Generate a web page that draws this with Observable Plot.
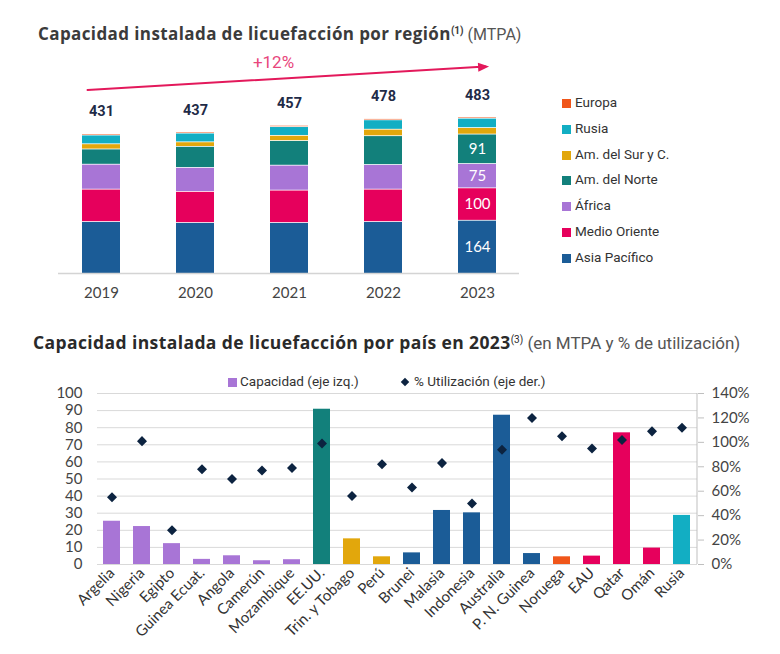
<!DOCTYPE html>
<html><head><meta charset="utf-8">
<script src="https://cdn.jsdelivr.net/npm/d3@7"></script>
<script src="https://cdn.jsdelivr.net/npm/@observablehq/plot@0.6"></script>
<style>
html,body{margin:0;padding:0;background:#fff;}
#root{position:relative;width:780px;height:654px;overflow:hidden;font-family:Roboto,"Open Sans",sans-serif;}
.abs{position:absolute;white-space:nowrap;line-height:1;}
#top{position:absolute;left:0;top:0;}
#bottom{position:absolute;left:0;top:360px;}
.t1{left:38px;top:25px;font-size:16px;color:#3b3b3b;}
.t1 b{font-weight:700;font-family:"Open Sans",sans-serif;font-size:17px;letter-spacing:0.4px;}
.t1 sup{font-size:10px;font-weight:700;vertical-align:6px;}
.t1 span{font-weight:400;color:#555;}
.t2{left:33px;top:334px;font-size:17px;color:#2a2a2a;}
.t2 b{font-weight:700;font-family:"Open Sans",sans-serif;font-size:17.5px;letter-spacing:0.4px;}
.t2 sup{font-size:10px;vertical-align:6px;}
.t2 span{font-weight:400;color:#555;}
.leg{font-size:13.5px;color:#333;}
.leg i{display:inline-block;width:9px;height:9px;margin-right:4px;vertical-align:-1px;}
.lg2{font-size:13.5px;color:#333;}
.lg2 i{display:inline-block;width:9px;height:9px;margin-right:3px;vertical-align:-1px;}
.lg2 em{display:inline-block;width:6px;height:6px;background:#0c2340;transform:rotate(45deg);margin:0 6px 0 2px;vertical-align:1px;}
</style></head><body>
<div id="root">
  <div id="top"></div>
  <div id="bottom"></div>
  <div class="abs t1"><b>Capacidad instalada de licuefacción por región</b><sup>(1)</sup> <span>(MTPA)</span></div>
  <div id="legTop"></div>
  <div class="abs t2"><b>Capacidad instalada de licuefacción por país en 2023</b><sup>(3)</sup> <span>(en MTPA y % de utilización)</span></div>
  <div class="abs lg2" style="left:228px;top:375px;"><i style="background:#a875d6"></i>Capacidad (eje izq.)</div>
  <div class="abs lg2" style="left:400px;top:375px;"><em></em>% Utilización (eje der.)</div>
</div>
<script>
// ---------- Data: top chart (MTPA by region, stacked bottom -> top) ----------
const years = ["2019", "2020", "2021", "2022", "2023"];
const regions = ["Asia Pacífico", "Medio Oriente", "África", "Am. del Norte", "Am. del Sur y C.", "Rusia", "Europa"];
const regionColors = ["#1b5c97", "#e6005c", "#a875d6", "#12807b", "#e2a70c", "#12aec3", "#f0561a"];
const asiaPacifico = [160, 157, 157, 160, 164];
const medioOriente = [100, 96, 100, 100, 100];
const africa = [77, 74, 77, 76, 75];
const amNorte = [47, 65, 76, 89, 91];
const amSur = [16, 14, 16, 20, 20];
const rusia = [27, 27, 27, 29, 29];
const europa = [4, 4, 4, 4, 4];
const legendOrder = ["Europa", "Rusia", "Am. del Sur y C.", "Am. del Norte", "África", "Medio Oriente", "Asia Pacífico"];

// ---------- Data: bottom chart (2023 by country) ----------
const countries = ["Argelia", "Nigeria", "Egipto", "Guinea Ecuat.", "Angola", "Camerún", "Mozambique", "EE.UU.", "Trin. y Tobago", "Perú", "Brunei", "Malasia", "Indonesia", "Australia", "P. N. Guinea", "Noruega", "EAU", "Qatar", "Omán", "Rusia"];
const countryRegion = ["África", "África", "África", "África", "África", "África", "África", "Am. del Norte", "Am. del Sur y C.", "Am. del Sur y C.", "Asia Pacífico", "Asia Pacífico", "Asia Pacífico", "Asia Pacífico", "Asia Pacífico", "Europa", "Medio Oriente", "Medio Oriente", "Medio Oriente", "Rusia"];
const capacity = [25.3, 22.2, 12.2, 3.0, 5.1, 2.2, 2.8, 90.8, 15.0, 4.5, 6.8, 31.6, 30.2, 87.3, 6.4, 4.5, 4.9, 77.0, 9.6, 28.7];
const utilization = [55, 101, 28, 78, 70, 77, 79, 99, 56, 82, 63, 83, 50, 94, 120, 105, 95, 102, 109, 112];
const leftTicks = [0, 10, 20, 30, 40, 50, 60, 70, 80, 90, 100];
const rightTicks = [0, 20, 40, 60, 80, 100, 120, 140];
const rightMax = 140;

// ---------- Build tables ----------
const series = [asiaPacifico, medioOriente, africa, amNorte, amSur, rusia, europa];
const tidy = regions.flatMap((r, i) => years.map((y, j) => ({year: y, region: r, value: series[i][j]})));
const totals = years.map((y, j) => d3.sum(series, s => s[j]));
const growthPct = Math.round((totals[totals.length - 1] / totals[0] - 1) * 100);
const arrowRow = [{x1: years[0], y1: totals[0] * 1.32, x2: years[years.length - 1], y2: totals[totals.length - 1] * 1.32, label: "+" + growthPct + "%", xm: years[2]}];
arrowRow[0].ym = (arrowRow[0].y1 + arrowRow[0].y2) / 2;
const rows = countries.map((c, i) => ({country: c, region: countryRegion[i], capacity: capacity[i], util: utilization[i]}));

const color = {domain: regions, range: regionColors};
const pink = "#e3195b";

const diamond = {draw(ctx, size) { const r = Math.sqrt(size / 2); ctx.moveTo(0, -r); ctx.lineTo(r, 0); ctx.lineTo(0, r); ctx.lineTo(-r, 0); ctx.closePath(); }};
const head = {draw(ctx) {
  const a = -3.3 * Math.PI / 180, L = 11, W = 9;
  const c = Math.cos(a), s = Math.sin(a);
  const tx = 0.6 * L * c, ty = 0.6 * L * s, bx = -0.4 * L * c, by = -0.4 * L * s;
  ctx.moveTo(tx, ty); ctx.lineTo(bx - W / 2 * (-s), by - W / 2 * c); ctx.lineTo(bx + W / 2 * (-s), by + W / 2 * c); ctx.closePath();
}};

const lastYear = years[years.length - 1];

const topPlot = Plot.plot({
  width: 540, height: 310,
  marginTop: 111, marginBottom: 37, marginLeft: 58, marginRight: 21,
  x: {domain: years, paddingInner: 0.6, paddingOuter: 0.25, label: null},
  y: {domain: [0, 500], axis: null},
  color,
  style: {fontFamily: "Lato, sans-serif", color: "#444", background: "transparent", overflow: "visible"},
  marks: [
    Plot.barY(tidy, {x: "year", y: "value", fill: "region", insetTop: 0.8}),
    Plot.ruleY([0], {stroke: "#d4d4d4", strokeWidth: 1.3}),
    Plot.axisX({tickSize: 0, tickPadding: 14, fontSize: 15, label: null}),
    Plot.text(tidy, Plot.groupX({y: "sum", text: "sum"}, {x: "year", y: "value", text: "value", dy: -22, fontSize: 14.5, fontWeight: "bold", fill: "#1f2b47", fontFamily: "Roboto, sans-serif"})),
    Plot.text(tidy, Plot.stackY({x: "year", y: "value", z: "region", text: d => (d.year === lastYear && d.value >= 50) ? String(d.value) : null, fill: "white", fontSize: 15})),
    Plot.arrow(arrowRow, {x1: "x1", y1: "y1", x2: "x2", y2: "y2", insetStart: -14, insetEnd: -8, headLength: 0, stroke: pink, strokeWidth: 2}),
    Plot.dot(arrowRow, {x: "x2", y: "y2", dx: 5, symbol: head, r: 5, fill: pink, stroke: "none"}),
    Plot.text(arrowRow, {x: "xm", y: "ym", text: "label", dx: -16, dy: -16, fill: "#e8467c", fontSize: 17, fontFamily: "Roboto, sans-serif"})
  ]
});
document.getElementById("top").append(topPlot);

// top legend
const legTop = document.getElementById("legTop");
legendOrder.forEach((r, i) => {
  const d = document.createElement("div");
  d.className = "abs leg";
  d.style.left = "562px";
  d.style.top = (96 + i * 25.8) + "px";
  d.innerHTML = `<i style="background:${regionColors[regions.indexOf(r)]}"></i>${r}`;
  legTop.append(d);
});

const bottomPlot = Plot.plot({
  width: 780, height: 294,
  marginTop: 33, marginBottom: 90, marginLeft: 97, marginRight: 83,
  x: {domain: countries, paddingInner: 0.43, paddingOuter: 0.215, label: null},
  y: {domain: [0, 100], label: null},
  color,
  style: {fontFamily: "Lato, sans-serif", color: "#444", background: "transparent", overflow: "visible"},
  marks: [
    Plot.gridY(leftTicks, {stroke: "#d9d9d9", strokeOpacity: 1}),
    Plot.barY(rows, {x: "country", y: "capacity", fill: "region"}),
    Plot.dot(rows, {x: "country", y: d => d.util * 100 / rightMax, symbol: diamond, r: 4, fill: "#0c2340", stroke: "none"}),
    Plot.axisY(leftTicks, {anchor: "left", tickSize: 0, tickPadding: 15, fontSize: 15, label: null}),
    Plot.axisY(rightTicks.map(p => p * 100 / rightMax), {anchor: "right", tickSize: 6, tickPadding: 8, stroke: "#bfbfbf", fill: "#444", fontSize: 15, tickFormat: v => Math.round(v * rightMax / 100) + "%", label: null}),
    Plot.ruleX([countries[countries.length - 1]], {dx: 15, y1: 0, y2: 100, stroke: "#bfbfbf"}),
    Plot.axisX({tickSize: 0, tickPadding: 6, tickRotate: -45, fontSize: 15, fill: "#333", label: null})
  ]
});
document.getElementById("bottom").append(bottomPlot);
</script>
</body></html>
